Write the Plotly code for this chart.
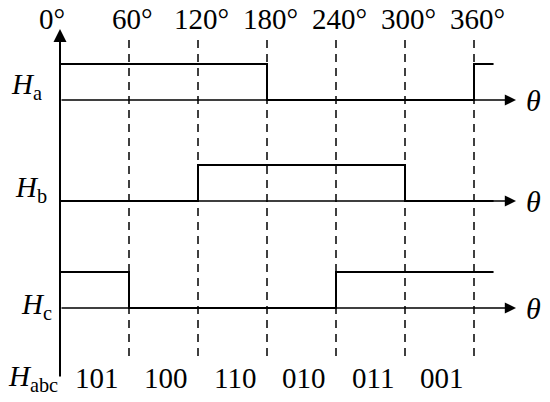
import plotly.graph_objects as go

# sector boundaries (electrical angle, deg) and hall states per sector
angles = [0, 60, 120, 180, 240, 300, 360]
tick_labels = ["0°", "60°", "120°", "180°", "240°", "300°", "360°"]
ha_states = [1, 1, 1, 0, 0, 0, 1]
hb_states = [0, 0, 1, 1, 1, 0, 0]
hc_states = [1, 0, 0, 0, 1, 1, 1]
codes = ["101", "100", "110", "010", "011", "001"]
signal_names = ["<i>H</i><sub>a</sub>", "<i>H</i><sub>b</sub>", "<i>H</i><sub>c</sub>"]

# layout helpers (pixels -> axis units)
PX0, PXDEG = 60, 1.15
def deg(px):
    return (px - PX0) / PXDEG

end_angle = 377
arrow_end = deg(516)
bases = [100, 201, 308]
amp = 36
FONT = "Liberation Serif"
FS = 29

fig = go.Figure()

# dashed sector lines
dx, dy = [], []
for a in angles[1:]:
    dx += [a, a, None]
    dy += [40, 357, None]
fig.add_trace(go.Scatter(x=dx, y=dy, mode="lines",
                         line=dict(color="black", width=1.5, dash="8px,6px"),
                         hoverinfo="skip"))

annotations = []
# baselines with arrows and theta labels
for b in bases:
    annotations.append(dict(x=arrow_end, y=b, ax=0, ay=b, xref="x", yref="y",
                            axref="x", ayref="y", text="", showarrow=True,
                            arrowhead=2, arrowsize=1.4, arrowwidth=1.6,
                            arrowcolor="black"))
    annotations.append(dict(x=deg(533), y=b, xref="x", yref="y", showarrow=False,
                            text="<i>θ</i>", font=dict(size=30, family=FONT, color="black")))

# vertical axis
annotations.append(dict(x=0, y=29, ax=0, ay=378, xref="x", yref="y",
                        axref="x", ayref="y", text="", showarrow=True,
                        arrowhead=2, arrowsize=1.3, arrowwidth=2,
                        arrowcolor="black"))

# waveforms
for states, b in zip([ha_states, hb_states, hc_states], bases):
    xs = angles + [end_angle]
    ys = [b - amp * s for s in states + [states[-1]]]
    fig.add_trace(go.Scatter(x=xs, y=ys, mode="lines", line_shape="hv",
                             line=dict(color="black", width=2), hoverinfo="skip"))

# angle labels
for a, t in zip(angles, tick_labels):
    annotations.append(dict(x=a, y=19, xref="x", yref="y", showarrow=False, text=t,
                            xshift=-8 if a == 0 else 3,
                            font=dict(size=FS, family=FONT, color="black")))

# signal names
name_pos = [(26, 86), (31, 189), (36, 306)]
for name, (px, py) in zip(signal_names, name_pos):
    annotations.append(dict(x=deg(px), y=py, xref="x", yref="y", showarrow=False,
                            text=name, font=dict(size=FS, family=FONT, color="black")))
annotations.append(dict(x=deg(33), y=378, xref="x", yref="y", showarrow=False,
                        text="<i>H</i><sub>abc</sub>",
                        font=dict(size=FS, family=FONT, color="black")))

# hall codes per sector
for i, c in enumerate(codes):
    annotations.append(dict(x=(angles[i] + angles[i + 1]) / 2 + 2, y=378, xref="x", yref="y",
                            showarrow=False, text=c,
                            font=dict(size=FS, family=FONT, color="black")))

fig.update_layout(
    width=550, height=402, autosize=False,
    margin=dict(l=0, r=0, t=0, b=0),
    plot_bgcolor="white", paper_bgcolor="white",
    showlegend=False,
    annotations=annotations,
    xaxis=dict(range=[deg(0), deg(550)], visible=False, fixedrange=True),
    yaxis=dict(range=[402, 0], visible=False, fixedrange=True),
)

fig.write_html("out.html", config={"displayModeBar": False},
               post_script="document.body.style.margin='0px';")
